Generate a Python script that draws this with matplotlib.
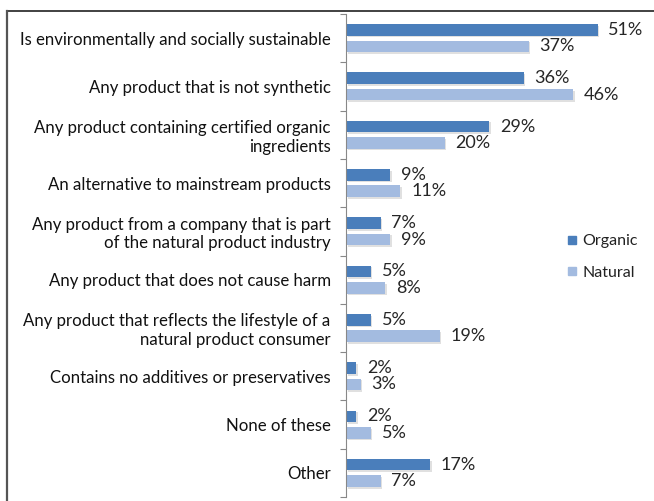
import matplotlib
matplotlib.use("Agg")
import matplotlib.pyplot as plt
import matplotlib.patheffects as pe
from matplotlib.lines import Line2D
import numpy as np

plt.rcParams['font.family'] = ['Lato', 'DejaVu Sans']

categories = [
    "Is environmentally and socially sustainable",
    "Any product that is not synthetic",
    "Any product containing certified organic\ningredients",
    "An alternative to mainstream products",
    "Any product from a company that is part\nof the natural product industry",
    "Any product that does not cause harm",
    "Any product that reflects the lifestyle of a\nnatural product consumer",
    "Contains no additives or preservatives",
    "None of these",
    "Other",
]
organic = [51, 36, 29, 9, 7, 5, 5, 2, 2, 17]
natural = [37, 46, 20, 11, 9, 8, 19, 3, 5, 7]
series_names = ["Organic", "Natural"]

c_org = "#4a7ebb"
c_nat = "#a3bbe0"

fig = plt.figure(figsize=(6.54, 5.01), dpi=100)
ax = fig.add_axes([346 / 654, 4 / 501, 1 - 346 / 654 - 12 / 654, 1 - 14 / 501 - 4 / 501])

n = len(categories)
y = np.arange(n)
h = 0.24
shadow = [pe.SimplePatchShadow(offset=(1.2, -1.2), shadow_rgbFace="#d4d4d4", alpha=0.7), pe.Normal()]

ax.barh(y - 0.17, organic, height=h, color=c_org, path_effects=shadow)
ax.barh(y + 0.17, natural, height=h, color=c_nat, path_effects=shadow)

for yi, v in zip(y - 0.17, organic):
    ax.text(v + 2.2, yi, f"{v}%", va="center", ha="left", fontsize=13, color="#262626")
for yi, v in zip(y + 0.17, natural):
    ax.text(v + 2.2, yi, f"{v}%", va="center", ha="left", fontsize=13, color="#262626")

ax.set_xlim(0, 60)
ax.set_ylim(n - 0.5, -0.5)

ax.set_yticks(y)
ax.set_yticklabels(categories, fontsize=12.1, color="#111111", ha="right", multialignment="right")
ax.tick_params(axis="y", which="major", length=0, pad=11)
ax.set_yticks(np.arange(-0.5, n, 1.0), minor=True)
ax.tick_params(axis="y", which="minor", length=4, width=0.8, color="#888888", direction="out")
ax.set_xticks([])

for s in ["top", "right", "bottom"]:
    ax.spines[s].set_visible(False)
ax.spines["left"].set_color("#888888")
ax.spines["left"].set_linewidth(0.8)

handles = [Line2D([], [], marker="s", linestyle="none", markersize=6, color=c_org),
           Line2D([], [], marker="s", linestyle="none", markersize=6, color=c_nat)]
fig.legend(handles, series_names, loc="center left", bbox_to_anchor=(551 / 654, 1 - 257 / 501),
           frameon=False, fontsize=11.5, handletextpad=0.25, labelspacing=1.1, handlelength=0.8,
           labelcolor="#222222")

# outer frame
fig.add_artist(Line2D([7 / 654, 1.0], [1 - 11 / 501, 1 - 11 / 501], transform=fig.transFigure,
                      color="#333333", linewidth=1.3))
fig.add_artist(Line2D([7 / 654, 7 / 654], [0, 1 - 11 / 501], transform=fig.transFigure,
                      color="#555555", linewidth=1.6))

fig.savefig("out.png", dpi=100)
